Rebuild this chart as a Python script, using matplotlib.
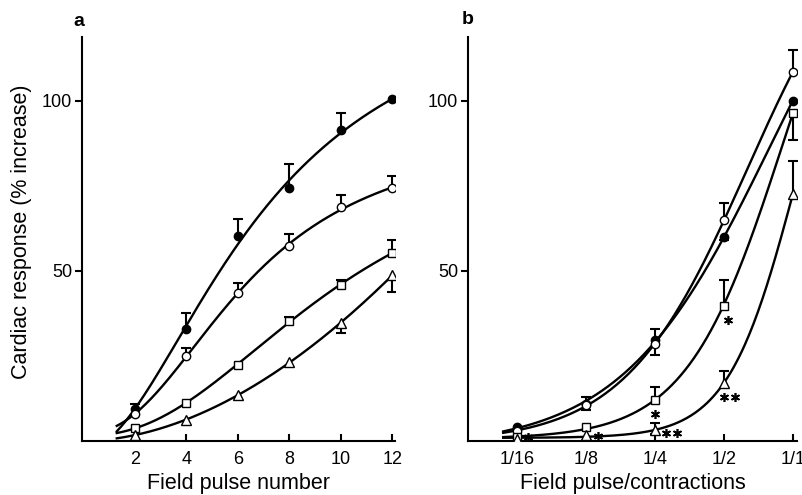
import numpy as np
import matplotlib
matplotlib.use("Agg")
import matplotlib.pyplot as plt
from matplotlib.transforms import offset_copy

plt.rcParams["font.family"] = ["Liberation Sans", "DejaVu Sans"]

# panel a: field pulse number
pulses = [2, 4, 6, 8, 10, 12]
a_filled = [9.5, 33, 60.3, 74.4, 91.5, 100.5]
a_filled_up = [1.5, 4.5, 5.0, 7.0, 5.0, 0]
a_open = [8, 25, 43.5, 57.2, 68.8, 74.5]
a_open_up = [0, 2.4, 3.0, 3.8, 3.6, 3.5]
a_square = [3.8, 11.2, 22.4, 35.3, 46, 55.3]
a_square_up = [0, 0, 0, 1.2, 1.4, 3.7]
a_tri = [1.8, 6.2, 13.5, 23.2, 34.7, 48.8]
a_tri_down = [0, 0, 0, 0, 2.9, 5.0]

# panel b: field pulse / contractions
ratio_labels = ["1/16", "1/8", "1/4", "1/2", "1/1"]
ratios = [1/16, 1/8, 1/4, 1/2, 1]
b_filled = [4, 11, 29.7, 60, 100]
b_filled_up = [0, 2, 3.3, 0, 0]
b_filled_down = [0, 2, 4.4, 1, 0]
b_open = [3, 10.5, 28.5, 65, 108.5]
b_open_up = [0, 0, 0, 5, 6.5]
b_square = [1.2, 4, 12, 39.7, 96.5]
b_square_up = [0, 0, 4, 7.5, 0]
b_square_down = [0, 0, 0, 0, 8]
b_tri = [0.5, 1.8, 3.2, 17, 72.6]
b_tri_up = [0, 0, 2.1, 3.5, 9.8]
b_tri_down = [0, 0, 1.2, 0, 0]


def sigmoid_fit(x, y, xs):
    # fit y = c + A / (1 + exp(-(x - x0) / s)) by grid search on x0, s
    x = np.asarray(x, float)
    y = np.asarray(y, float)
    best = None
    for x0 in np.linspace(x.min() - 2, x.max() + 8, 161):
        for s in np.geomspace(0.05, 12, 140):
            f = 1 / (1 + np.exp(-(x - x0) / s))
            M = np.column_stack([np.ones_like(f), f])
            coef, *_ = np.linalg.lstsq(M, y, rcond=None)
            err = np.sum((M @ coef - y) ** 2)
            if best is None or err < best[0]:
                best = (err, x0, s, coef)
    _, x0, s, (c, A) = best
    return c + A / (1 + np.exp(-(xs - x0) / s))


def errbars(ax, x, y, up=None, down=None):
    x = np.asarray(x, float)
    y = np.asarray(y, float)
    for e, sign in ((up, 1), (down, -1)):
        if e is None:
            continue
        e = np.asarray(e, float)
        mk = e > 0
        ends = y[mk] + sign * e[mk]
        ax.vlines(x[mk], y[mk], ends, color="black", lw=1.5, zorder=2)
        ax.plot(x[mk], ends, ls="none", marker="_", ms=7, mew=1.5, color="black", zorder=2)


styles = {
    "filled": dict(marker="o", ms=6, mfc="black", mec="black"),
    "open": dict(marker="o", ms=6, mfc="white", mec="black", mew=1),
    "square": dict(marker="s", ms=5.5, mfc="white", mec="black", mew=1),
    "tri": dict(marker="^", ms=7, mfc="white", mec="black", mew=1),
}

fig = plt.figure(figsize=(8.03, 4.95), dpi=100)
ax1 = fig.add_axes([82 / 803, 54 / 495, 313 / 803, 404 / 495])
ax2 = fig.add_axes([468 / 803, 54 / 495, 329 / 803, 404 / 495])

# panel a: Hill-type curves (logistic in log pulse number)
xs = np.linspace(1.3, 12, 200)
series_a = [(a_filled, "filled", a_filled_up, None),
            (a_open, "open", a_open_up, None),
            (a_square, "square", a_square_up, None),
            (a_tri, "tri", None, a_tri_down)]
for vals, st, up, down in series_a:
    fit = sigmoid_fit(np.log(pulses), vals, np.log(xs))
    ax1.plot(xs, np.clip(fit, 0.5, None), color="black", lw=1.7, zorder=1)
    errbars(ax1, pulses, vals, up, down)
    ax1.plot(pulses, vals, ls="none", zorder=3, **styles[st])

ax1.set_xlim(-0.05, 12.1)
ax1.set_xticks(pulses)
ax1.set_xlabel("Field pulse number", fontsize=15.5, labelpad=4)

# panel b (log2 spacing)
lx = np.log2(ratios)
xs = np.linspace(-4.2, 0, 200)
series_b = [(b_filled, "filled", b_filled_up, b_filled_down),
            (b_open, "open", b_open_up, None),
            (b_square, "square", b_square_up, b_square_down),
            (b_tri, "tri", b_tri_up, b_tri_down)]
for vals, st, up, down in series_b:
    ax2.plot(xs, np.clip(sigmoid_fit(lx, vals, xs), 0.5, None), color="black", lw=1.7, zorder=1)
    errbars(ax2, lx, vals, up, down)
    ax2.plot(lx, vals, ls="none", zorder=3, **styles[st])

# significance asterisks, offsets in points from the marker
stars = [(lx[3], b_square[3], 1, (3, -10)),
         (lx[2], b_square[2], 1, (0, -10)),
         (lx[3], b_tri[3], 2, (4, -10)),
         (lx[2], b_tri[2], 2, (12, -2)),
         (lx[1], b_tri[1], 1, (9, -1)),
         (lx[0], b_square[0], 1, (8, 0))]
for x, y, n, (dx, dy) in stars:
    for j in range(n):
        tr = offset_copy(ax2.transData, fig=fig, x=dx + (j - (n - 1) / 2) * 8, y=dy, units="points")
        ax2.plot([x], [y], transform=tr, ls="none", marker=(6, 2, 0), ms=6.5, mew=1.2,
                 color="black", clip_on=False, zorder=4)

ax2.set_xlim(-4.71, 0.06)
ax2.set_xticks(lx)
ax2.set_xticklabels(ratio_labels)
ax2.set_xlabel("Field pulse/contractions", fontsize=15.5, labelpad=4)

for ax in (ax1, ax2):
    ax.set_ylim(0, 118.8)
    ax.set_yticks([50, 100])
    ax.spines["top"].set_visible(False)
    ax.spines["right"].set_visible(False)
    ax.spines["left"].set_linewidth(1.5)
    ax.spines["bottom"].set_linewidth(1.5)
    ax.tick_params(axis="x", direction="in", length=5, width=1.5, labelsize=13, pad=7)
    ax.tick_params(axis="y", direction="out", length=5, width=1.5, labelsize=13, pad=2)

fig.text(22 / 803, 1 - 232 / 495, "Cardiac response (% increase)", rotation=90,
         ha="center", va="center", fontsize=15.5)
fig.text(79 / 803, 1 - 22 / 495, "a", fontweight="bold", fontsize=14, ha="center", va="center")
fig.text(468 / 803, 1 - 20 / 495, "b", fontweight="bold", fontsize=14, ha="center", va="center")

fig.savefig("out.png", dpi=100)
